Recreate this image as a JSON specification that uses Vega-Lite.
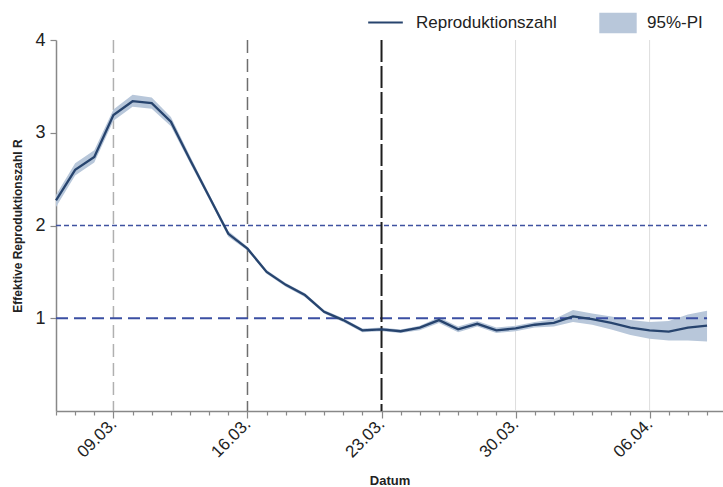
{
  "$schema": "https://vega.github.io/schema/vega-lite/v6.json",
  "width": 667,
  "height": 371,
  "autosize": "none",
  "padding": {"left": 56, "top": 40, "right": 0, "bottom": 76},
  "background": "white",
  "config": {
    "view": {"stroke": null},
    "font": "Liberation Sans",
    "axis": {"domainColor": "#888888", "domainWidth": 1.5, "tickColor": "#888888", "tickWidth": 1.2, "grid": false, "labelColor": "#222222", "titleColor": "#222222"}
  },
  "datasets": {
    "r": [
      {"date": "2020-03-06", "R": 2.27, "lo": 2.20, "hi": 2.33},
      {"date": "2020-03-07", "R": 2.60, "lo": 2.54, "hi": 2.67},
      {"date": "2020-03-08", "R": 2.74, "lo": 2.68, "hi": 2.81},
      {"date": "2020-03-09", "R": 3.19, "lo": 3.13, "hi": 3.25},
      {"date": "2020-03-10", "R": 3.34, "lo": 3.28, "hi": 3.41},
      {"date": "2020-03-11", "R": 3.32, "lo": 3.26, "hi": 3.38},
      {"date": "2020-03-12", "R": 3.12, "lo": 3.07, "hi": 3.17},
      {"date": "2020-03-13", "R": 2.71, "lo": 2.67, "hi": 2.75},
      {"date": "2020-03-14", "R": 2.31, "lo": 2.28, "hi": 2.34},
      {"date": "2020-03-15", "R": 1.91, "lo": 1.88, "hi": 1.94},
      {"date": "2020-03-16", "R": 1.75, "lo": 1.73, "hi": 1.77},
      {"date": "2020-03-17", "R": 1.50, "lo": 1.48, "hi": 1.52},
      {"date": "2020-03-18", "R": 1.36, "lo": 1.34, "hi": 1.38},
      {"date": "2020-03-19", "R": 1.25, "lo": 1.23, "hi": 1.27},
      {"date": "2020-03-20", "R": 1.07, "lo": 1.05, "hi": 1.09},
      {"date": "2020-03-21", "R": 0.98, "lo": 0.96, "hi": 1.00},
      {"date": "2020-03-22", "R": 0.87, "lo": 0.85, "hi": 0.89},
      {"date": "2020-03-23", "R": 0.88, "lo": 0.86, "hi": 0.90},
      {"date": "2020-03-24", "R": 0.86, "lo": 0.84, "hi": 0.88},
      {"date": "2020-03-25", "R": 0.90, "lo": 0.87, "hi": 0.92},
      {"date": "2020-03-26", "R": 0.98, "lo": 0.95, "hi": 1.01},
      {"date": "2020-03-27", "R": 0.88, "lo": 0.85, "hi": 0.91},
      {"date": "2020-03-28", "R": 0.94, "lo": 0.91, "hi": 0.97},
      {"date": "2020-03-29", "R": 0.87, "lo": 0.84, "hi": 0.90},
      {"date": "2020-03-30", "R": 0.89, "lo": 0.86, "hi": 0.92},
      {"date": "2020-03-31", "R": 0.93, "lo": 0.90, "hi": 0.96},
      {"date": "2020-04-01", "R": 0.95, "lo": 0.91, "hi": 0.99},
      {"date": "2020-04-02", "R": 1.02, "lo": 0.96, "hi": 1.09},
      {"date": "2020-04-03", "R": 0.99, "lo": 0.93, "hi": 1.05},
      {"date": "2020-04-04", "R": 0.95, "lo": 0.88, "hi": 1.02},
      {"date": "2020-04-05", "R": 0.90, "lo": 0.82, "hi": 0.98},
      {"date": "2020-04-06", "R": 0.87, "lo": 0.78, "hi": 0.96},
      {"date": "2020-04-07", "R": 0.855, "lo": 0.76, "hi": 0.97},
      {"date": "2020-04-08", "R": 0.90, "lo": 0.76, "hi": 1.04},
      {"date": "2020-04-09", "R": 0.92, "lo": 0.75, "hi": 1.08}
    ],
    "hlines": [
      {"date": "2020-03-06", "date2": "2020-04-09", "y": 1, "kind": "one"},
      {"date": "2020-03-06", "date2": "2020-04-09", "y": 2, "kind": "two"}
    ],
    "vlines": [
      {"date": "2020-03-09", "kind": "light"},
      {"date": "2020-03-16", "kind": "mid"},
      {"date": "2020-03-23", "kind": "dark"},
      {"date": "2020-03-30", "kind": "grid"},
      {"date": "2020-04-06", "kind": "grid"}
    ]
  },
  "layer": [
    {
      "data": {"name": "vlines"},
      "transform": [{"filter": "datum.kind == 'grid'"}],
      "mark": {"type": "rule", "color": "#dddddd", "strokeWidth": 1},
      "encoding": {
        "x": {"field": "date", "type": "temporal", "title": "Datum",
          "scale": {"type": "utc", "nice": false, "domain": [{"year": 2020, "month": 3, "date": 6, "utc": true}, {"year": 2020, "month": 4, "date": 9, "hours": 20, "utc": true}]},
          "axis": {
            "tickCount": {"interval": "day", "step": 1},
            "labelExpr": "utcday(datum.value) == 1 ? utcFormat(datum.value, '%d.%m.') : ''",
            "tickSize": {"condition": {"test": "utcday(datum.value) == 1", "value": 7}, "value": 4},
            "labelAngle": -45, "labelAlign": "right", "labelBaseline": "middle",
            "labelFontSize": 17, "labelPadding": 3, "labelOverlap": false, "labelFlush": false,
            "titleFontSize": 13, "titleFontWeight": "bold", "titlePadding": 14
          }
        }
      }
    },
    {
      "data": {"name": "vlines"},
      "transform": [{"filter": "datum.kind == 'light'"}],
      "mark": {"type": "rule", "color": "#b0b0b0", "strokeWidth": 1.5, "strokeDash": [13, 6]},
      "encoding": {"x": {"field": "date", "type": "temporal", "title": "Datum"}}
    },
    {
      "data": {"name": "vlines"},
      "transform": [{"filter": "datum.kind == 'mid'"}],
      "mark": {"type": "rule", "color": "#6e6e6e", "strokeWidth": 1.5, "strokeDash": [13, 6]},
      "encoding": {"x": {"field": "date", "type": "temporal", "title": "Datum"}}
    },
    {
      "data": {"name": "r"},
      "mark": {"type": "area", "opacity": 1},
      "encoding": {
        "x": {"field": "date", "type": "temporal", "title": "Datum"},
        "y": {"field": "lo", "type": "quantitative", "title": "Effektive Reproduktionszahl R",
          "scale": {"domain": [0, 4], "nice": false},
          "axis": {"values": [1, 2, 3, 4], "format": "d", "labelFontSize": 18, "tickSize": 6, "labelPadding": 5,
            "titleFontSize": 12, "titleFontWeight": "bold", "titlePadding": 10}
        },
        "y2": {"field": "hi"},
        "fill": {"datum": "95%-PI", "type": "nominal",
          "scale": {"range": ["#b8c7da"]},
          "legend": {"orient": "none", "legendX": 543, "legendY": -36, "title": null,
            "symbolType": "M-1,-0.55L1,-0.55L1,0.55L-1,0.55Z", "symbolSize": 1400, "symbolStrokeWidth": 0,
            "labelFontSize": 17, "labelColor": "#222222", "labelOffset": 10}
        }
      }
    },
    {
      "data": {"name": "hlines"},
      "transform": [{"filter": "datum.kind == 'two'"}],
      "mark": {"type": "rule", "color": "#3f52a0", "strokeWidth": 1.3, "strokeDash": [5, 3]},
      "encoding": {
        "x": {"field": "date", "type": "temporal", "title": "Datum"},
        "x2": {"field": "date2"},
        "y": {"field": "y", "type": "quantitative", "title": "Effektive Reproduktionszahl R"}
      }
    },
    {
      "data": {"name": "hlines"},
      "transform": [{"filter": "datum.kind == 'one'"}],
      "mark": {"type": "rule", "color": "#3b4fa3", "strokeWidth": 2.2, "strokeDash": [12, 6]},
      "encoding": {
        "x": {"field": "date", "type": "temporal", "title": "Datum"},
        "x2": {"field": "date2"},
        "y": {"field": "y", "type": "quantitative", "title": "Effektive Reproduktionszahl R"}
      }
    },
    {
      "data": {"name": "vlines"},
      "transform": [{"filter": "datum.kind == 'dark'"}],
      "mark": {"type": "rule", "color": "#1e1e1e", "strokeWidth": 2, "strokeDash": [22, 4]},
      "encoding": {"x": {"field": "date", "type": "temporal", "title": "Datum"}}
    },
    {
      "data": {"name": "r"},
      "mark": {"type": "line", "strokeWidth": 2.3},
      "encoding": {
        "x": {"field": "date", "type": "temporal", "title": "Datum"},
        "y": {"field": "R", "type": "quantitative", "title": "Effektive Reproduktionszahl R"},
        "stroke": {"datum": "Reproduktionszahl", "type": "nominal",
          "scale": {"range": ["#27446e"]},
          "legend": {"orient": "none", "legendX": 311, "legendY": -36, "title": null,
            "symbolType": "stroke", "symbolSize": 1200, "symbolStrokeWidth": 2,
            "labelFontSize": 17, "labelColor": "#222222", "labelOffset": 12}
        }
      }
    }
  ]
}
